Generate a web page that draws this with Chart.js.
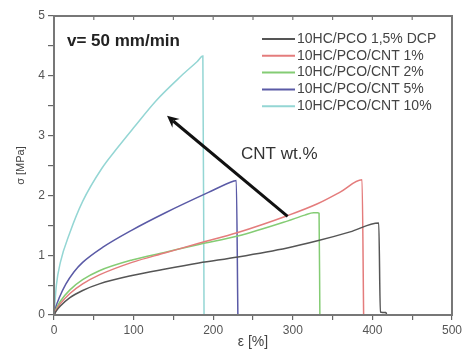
<!DOCTYPE html>
<html lang="en">
<head>
  <meta charset="UTF-8">
  <title>Stress-strain curves</title>
  <script src="https://cdn.jsdelivr.net/npm/chart.js"></script>
  <style>
    body { margin: 0; background: white; }
  </style>
</head>
<body>
  <canvas id="chart" width="465" height="354"></canvas>

  <script>
    // data (strain in %, stress in MPa)
    const seriesLabels = ['10HC/PCO 1,5% DCP', '10HC/PCO/CNT 1%', '10HC/PCO/CNT 2%', '10HC/PCO/CNT 5%', '10HC/PCO/CNT 10%'];
    const seriesColors = ['#555555', '#e47c7c', '#84cc74', '#5a5aa6', '#94d6d4'];

    const dcpStrain = [0, 3, 8, 20, 36, 57, 98, 140, 182, 231, 293, 331, 372, 408, 410, 417, 418];
    const dcpStress = [0, 0.07, 0.15, 0.29, 0.41, 0.52, 0.66, 0.77, 0.87, 0.97, 1.12, 1.24, 1.39, 1.54, 0.05, 0.04, 0];

    const cnt1Strain = [0, 3, 8, 20, 36, 57, 98, 140, 182, 231, 293, 331, 360, 387, 389];
    const cnt1Stress = [0, 0.09, 0.19, 0.36, 0.52, 0.67, 0.88, 1.04, 1.2, 1.38, 1.66, 1.86, 2.06, 2.26, 0];

    const cnt2Strain = [0, 3, 8, 20, 36, 57, 98, 140, 182, 231, 293, 315, 326, 331, 333, 334];
    const cnt2Stress = [0, 0.11, 0.23, 0.42, 0.59, 0.74, 0.92, 1.05, 1.18, 1.32, 1.57, 1.67, 1.71, 1.71, 1.70, 0];

    const cnt5Strain = [0, 2, 7, 15, 25, 36, 61, 98, 140, 194, 226, 229, 231];
    const cnt5Stress = [0, 0.12, 0.3, 0.52, 0.72, 0.88, 1.13, 1.42, 1.71, 2.05, 2.24, 2.25, 0];

    const cnt10Strain = [0, 3, 8, 20, 36, 60, 80, 100, 128, 160, 180, 187, 188.5];
    const cnt10Stress = [0, 0.5, 0.88, 1.38, 1.9, 2.45, 2.8, 3.13, 3.58, 4.0, 4.24, 4.33, 0];

    const strainSets = [dcpStrain, cnt1Strain, cnt2Strain, cnt5Strain, cnt10Strain];
    const stressSets = [dcpStress, cnt1Stress, cnt2Stress, cnt5Stress, cnt10Stress];

    // arrow: from (strain, stress) tail to tip
    const arrowTail = [293.5, 1.65];
    const arrowTip = [142, 3.33];

    const xTickLabels = [0, 100, 200, 300, 400, 500];
    const yTickLabels = [0, 1, 2, 3, 4, 5];

    const fontFamily = '"Liberation Sans", Arial, sans-serif';

    const datasets = seriesLabels.map((label, i) => ({
      label: label,
      data: strainSets[i].map((x, j) => ({ x: x, y: stressSets[i][j] })),
      borderColor: seriesColors[i],
      borderWidth: 1.5,
      pointRadius: 0,
      fill: false,
      cubicInterpolationMode: 'monotone'
    }));

    // frame, top ticks, legend and annotations
    const decorations = {
      id: 'decorations',
      afterDatasetsDraw(chart) {
        const ctx = chart.ctx;
        const area = chart.chartArea;
        const xs = chart.scales.x;
        const ys = chart.scales.y;
        ctx.save();

        // frame
        ctx.strokeStyle = '#777';
        ctx.lineWidth = 2;
        ctx.strokeRect(area.left, area.top, area.right - area.left, area.bottom - area.top);

        // inward ticks on the top edge
        ctx.lineWidth = 1.2;
        for (let v = 50; v < 500; v += 50) {
          const px = xs.getPixelForValue(v);
          ctx.beginPath();
          ctx.moveTo(px, area.top);
          ctx.lineTo(px, area.top + 4);
          ctx.stroke();
        }

        // legend
        ctx.font = '14px ' + fontFamily;
        ctx.textBaseline = 'middle';
        ctx.textAlign = 'left';
        seriesLabels.forEach((label, i) => {
          const y = 39 + i * 16.8;
          ctx.strokeStyle = seriesColors[i];
          ctx.lineWidth = 2;
          ctx.beginPath();
          ctx.moveTo(262, y);
          ctx.lineTo(295, y);
          ctx.stroke();
          ctx.fillStyle = '#444';
          ctx.fillText(label, 297, y);
        });

        // speed note
        ctx.font = 'bold 17px ' + fontFamily;
        ctx.fillStyle = '#222';
        ctx.fillText('v= 50 mm/min', 67, 41);

        // CNT label
        ctx.font = '17px ' + fontFamily;
        ctx.fillStyle = '#333';
        ctx.fillText('CNT wt.%', 241, 154);

        // arrow
        const x1 = xs.getPixelForValue(arrowTail[0]);
        const y1 = ys.getPixelForValue(arrowTail[1]);
        const x2 = xs.getPixelForValue(arrowTip[0]);
        const y2 = ys.getPixelForValue(arrowTip[1]);
        const ang = Math.atan2(y2 - y1, x2 - x1);
        const head = 13;
        ctx.strokeStyle = '#111';
        ctx.fillStyle = '#111';
        ctx.lineWidth = 3;
        ctx.beginPath();
        ctx.moveTo(x1, y1);
        ctx.lineTo(x2 - Math.cos(ang) * 8, y2 - Math.sin(ang) * 8);
        ctx.stroke();
        ctx.beginPath();
        ctx.moveTo(x2, y2);
        ctx.lineTo(x2 - head * Math.cos(ang - 0.45), y2 - head * Math.sin(ang - 0.45));
        ctx.lineTo(x2 - head * 0.6 * Math.cos(ang), y2 - head * 0.6 * Math.sin(ang));
        ctx.lineTo(x2 - head * Math.cos(ang + 0.45), y2 - head * Math.sin(ang + 0.45));
        ctx.closePath();
        ctx.fill();

        ctx.restore();
      }
    };

    new Chart(document.getElementById('chart'), {
      type: 'line',
      data: { datasets: datasets },
      options: {
        responsive: false,
        animation: false,
        layout: { padding: { top: 16, right: 10, left: 0, bottom: 0 } },
        plugins: {
          legend: { display: false },
          tooltip: { enabled: false }
        },
        scales: {
          x: {
            type: 'linear',
            min: 0,
            max: 500,
            afterFit(scale) { scale.height = 39; },
            border: { display: false },
            grid: { drawOnChartArea: false, drawTicks: true, tickLength: 5, color: '#666', lineWidth: 1.2 },
            ticks: {
              stepSize: 50,
              padding: 3,
              color: '#555',
              font: { family: fontFamily, size: 12 },
              maxRotation: 0,
              callback: v => xTickLabels.includes(v) ? String(v) : ''
            },
            title: {
              display: true,
              text: 'ε [%]',
              color: '#444',
              font: { family: fontFamily, size: 14 },
              padding: { top: 0, bottom: 3 }
            }
          },
          y: {
            type: 'linear',
            min: 0,
            max: 5,
            afterFit(scale) { scale.width = 54; },
            border: { display: false },
            grid: { drawOnChartArea: false, drawTicks: true, tickLength: 6, color: '#666', lineWidth: 1.2 },
            ticks: {
              stepSize: 0.5,
              padding: 3,
              color: '#555',
              font: { family: fontFamily, size: 12 },
              callback: v => yTickLabels.includes(v) ? String(v) : ''
            },
            title: {
              display: true,
              text: 'σ [MPa]',
              color: '#444',
              font: { family: fontFamily, size: 11 },
              padding: { top: 14, bottom: 0 }
            }
          }
        }
      },
      plugins: [decorations]
    });
  </script>
</body>
</html>
